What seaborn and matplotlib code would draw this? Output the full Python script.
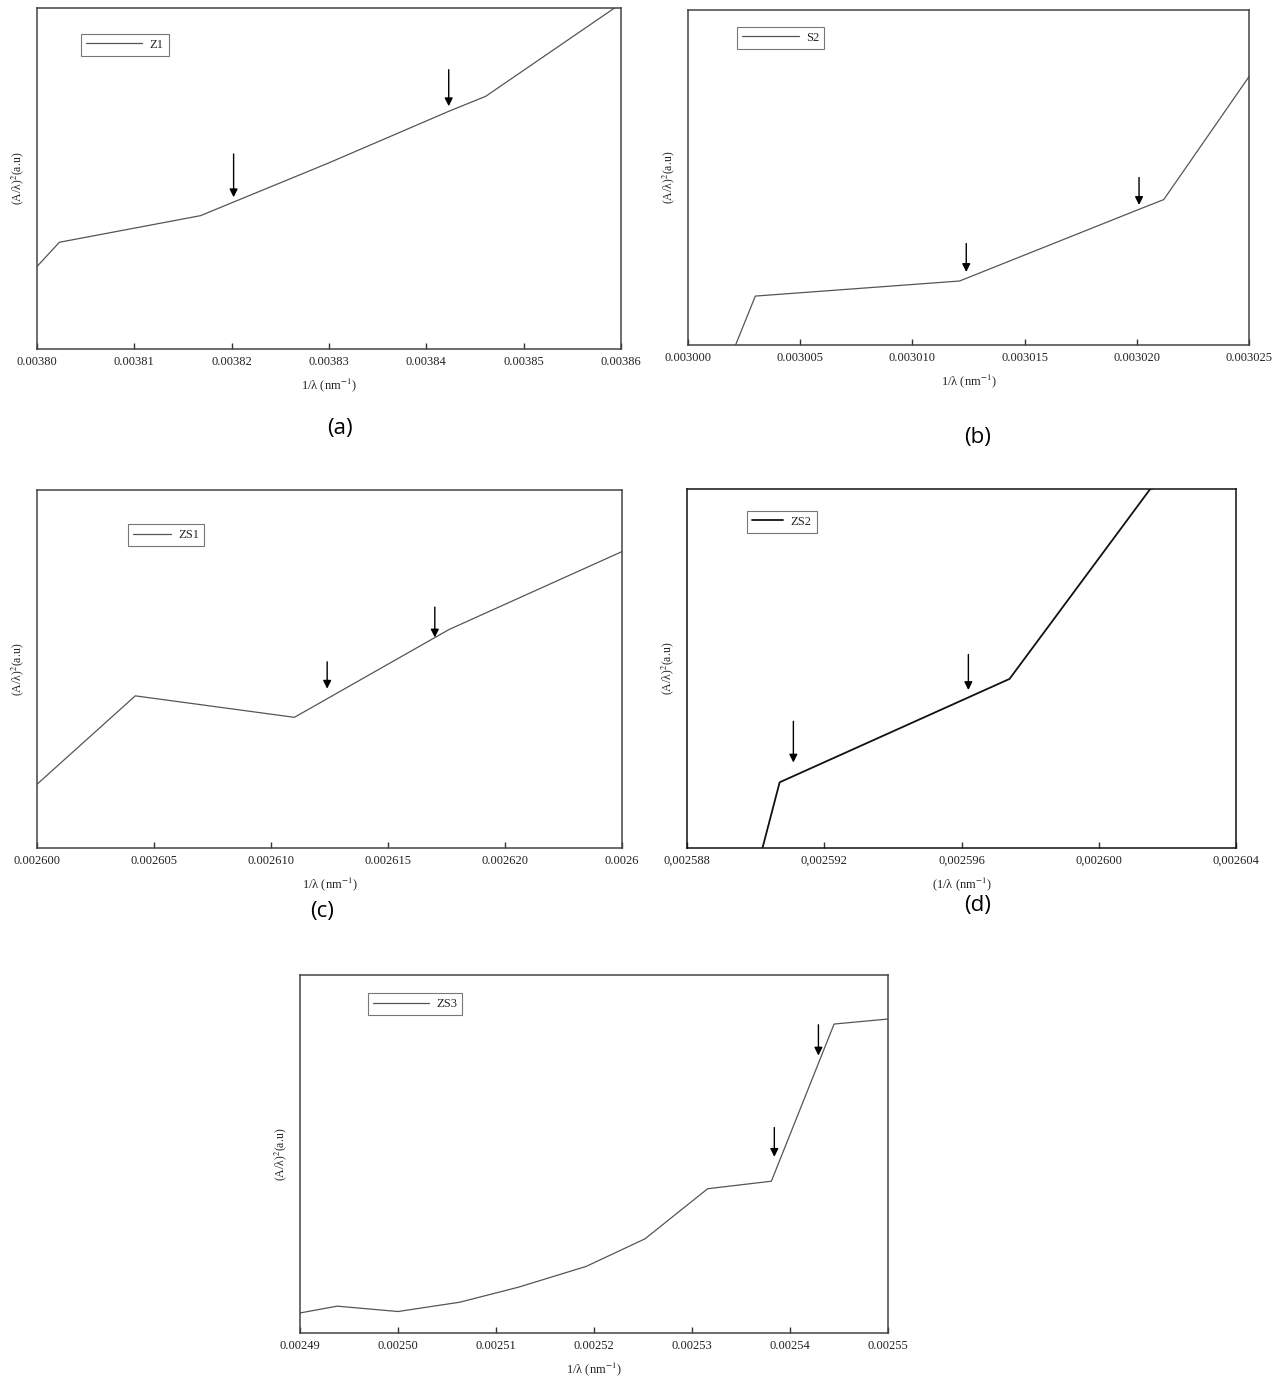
import numpy as np
import pandas as pd
import matplotlib
matplotlib.use("Agg")
import matplotlib.pyplot as plt
import seaborn as sns

# ---------------------------------------------------------------------------
# data (y in arbitrary units, 0..1 of the frame)
# ---------------------------------------------------------------------------
z1_x = [0.003800, 0.0038023, 0.0038168, 0.0038202, 0.0038300, 0.0038423, 0.0038461, 0.0038600]
z1_y = [0.242, 0.313, 0.391, 0.431, 0.546, 0.697, 0.741, 1.013]

s2_x = [0.0030020, 0.0030030, 0.0030121, 0.0030201, 0.0030212, 0.0030250]
s2_y = [-0.02, 0.146, 0.191, 0.405, 0.434, 0.801]

zs1_x = [0.0026000, 0.0026042, 0.0026110, 0.0026176, 0.0026250]
zs1_y = [0.178, 0.425, 0.365, 0.610, 0.828]

zs2_x = [0.0025902, 0.0025907, 0.0025974, 0.0026015, 0.0026020]
zs2_y = [0.000, 0.183, 0.471, 1.000, 1.010]

zs3_x = [0.002490, 0.0024938, 0.0025000, 0.0025063, 0.0025123, 0.0025192,
         0.0025252, 0.0025316, 0.0025381, 0.0025445, 0.002550]
zs3_y = [0.056, 0.075, 0.060, 0.086, 0.128, 0.186, 0.263, 0.403, 0.424, 0.863, 0.877]

# arrows: (x, top of shaft, tip)
z1_arrows = [(0.0038202, 0.572, 0.445), (0.0038423, 0.819, 0.712)]
s2_arrows = [(0.0030124, 0.303, 0.218), (0.0030201, 0.50, 0.418)]
zs1_arrows = [(0.0026124, 0.520, 0.445), (0.0026170, 0.673, 0.588)]
zs2_arrows = [(0.0025911, 0.353, 0.238), (0.0025962, 0.539, 0.440)]
zs3_arrows = [(0.0025384, 0.574, 0.492), (0.0025429, 0.861, 0.775)]

z1_ticks = [0.00380, 0.00381, 0.00382, 0.00383, 0.00384, 0.00385, 0.00386]
z1_labels = ["0.00380", "0.00381", "0.00382", "0.00383", "0.00384", "0.00385", "0.00386"]
s2_ticks = [0.003000, 0.003005, 0.003010, 0.003015, 0.003020, 0.003025]
s2_labels = ["0.003000", "0.003005", "0.003010", "0.003015", "0.003020", "0.003025"]
zs1_ticks = [0.002600, 0.002605, 0.002610, 0.002615, 0.002620, 0.002625]
zs1_labels = ["0.002600", "0.002605", "0.002610", "0.002615", "0.002620", "0.0026"]
zs2_ticks = [0.002588, 0.002592, 0.002596, 0.002600, 0.002604]
zs2_labels = ["0,002588", "0,002592", "0,002596", "0,002600", "0,002604"]
zs3_ticks = [0.00249, 0.00250, 0.00251, 0.00252, 0.00253, 0.00254, 0.00255]
zs3_labels = ["0.00249", "0.00250", "0.00251", "0.00252", "0.00253", "0.00254", "0.00255"]

# ---------------------------------------------------------------------------
sns.set_theme(style="ticks")
plt.rcParams['font.family'] = ['Liberation Serif', 'DejaVu Serif']
plt.rcParams['mathtext.fontset'] = 'stix'
plt.rcParams['xtick.direction'] = 'in'
plt.rcParams['xtick.major.size'] = 4
plt.rcParams['xtick.major.width'] = 1

W, H = 1285, 1396
fig = plt.figure(figsize=(W / 100, H / 100), dpi=100)


def px_axes(l, r, t, b):
    return fig.add_axes([l / W, (H - b) / H, (r - l) / W, (b - t) / H])


panels = [
    # name, x, y, arrows, ticks, labels, frame px, legend pos, color, lw, xlabel, handlelen
    ("Z1", z1_x, z1_y, z1_arrows, z1_ticks, z1_labels, (37, 621, 8, 349),
     (0.075, 0.925), "#555555", 0.9, r"1/λ (nm$^{-1}$)", 4.5),
    ("S2", s2_x, s2_y, s2_arrows, s2_ticks, s2_labels, (688, 1249, 10, 345),
     (0.088, 0.950), "#555555", 0.9, r"1/λ (nm$^{-1}$)", 4.5),
    ("ZS1", zs1_x, zs1_y, zs1_arrows, zs1_ticks, zs1_labels, (37, 622, 490, 848),
     (0.156, 0.905), "#555555", 0.9, r"1/λ (nm$^{-1}$)", 3.0),
    ("ZS2", zs2_x, zs2_y, zs2_arrows, zs2_ticks, zs2_labels, (687, 1236, 489, 848),
     (0.109, 0.940), "#111111", 1.3, r"(1/λ (nm$^{-1}$)", 2.5),
    ("ZS3", zs3_x, zs3_y, zs3_arrows, zs3_ticks, zs3_labels, (300, 888, 975, 1333),
     (0.115, 0.950), "#555555", 0.9, r"1/λ (nm$^{-1}$)", 4.5),
]

for name, xs, ys, arrows, ticks, labels, frame, legpos, color, lw, xlabel, hl in panels:
    ax = px_axes(*frame)
    df = pd.DataFrame({"x": xs, "y": ys, "s": name})
    sns.lineplot(data=df, x="x", y="y", hue="s", palette=[color], linewidth=lw,
                 sort=False, ax=ax)
    for xa, top, tip in arrows:
        ax.annotate("", xy=(xa, tip), xytext=(xa, top),
                    arrowprops=dict(arrowstyle="-|>", color="black", lw=1.0,
                                    mutation_scale=12, shrinkA=0, shrinkB=0))
    ax.set_xlim(ticks[0], ticks[-1])
    ax.set_ylim(0, 1)
    ax.set_xticks(ticks)
    ax.set_xticklabels(labels, fontsize=9)
    ax.set_yticks([])
    ax.tick_params(axis='x', pad=5, colors="#333333", labelcolor="#222222")
    for sp in ax.spines.values():
        sp.set_color("#444444" if color != "#111111" else "#111111")
        sp.set_linewidth(1.1)
    ax.set_xlabel(xlabel, fontsize=9, labelpad=6, color="#222222")
    ax.set_ylabel("(A/λ)$^2$(a.u)", fontsize=8.5, labelpad=8, color="#222222")
    leg = ax.legend(loc="upper left", bbox_to_anchor=legpos, fontsize=9,
                    handlelength=hl, handletextpad=0.6, borderpad=0.4,
                    borderaxespad=0, fancybox=False, framealpha=1, title=None)
    leg.get_frame().set_edgecolor("#777777")
    leg.get_frame().set_linewidth(0.8)

# panel letters
for txt, xp, yp in [("(a)", 340, 428), ("(b)", 978, 437), ("(c)", 322, 912), ("(d)", 978, 906)]:
    fig.text(xp / W, 1 - yp / H, txt, fontsize=16, ha="center", va="center",
             family=["Open Sans", "DejaVu Sans"], color="black")

plt.savefig("out.png", dpi=100)
